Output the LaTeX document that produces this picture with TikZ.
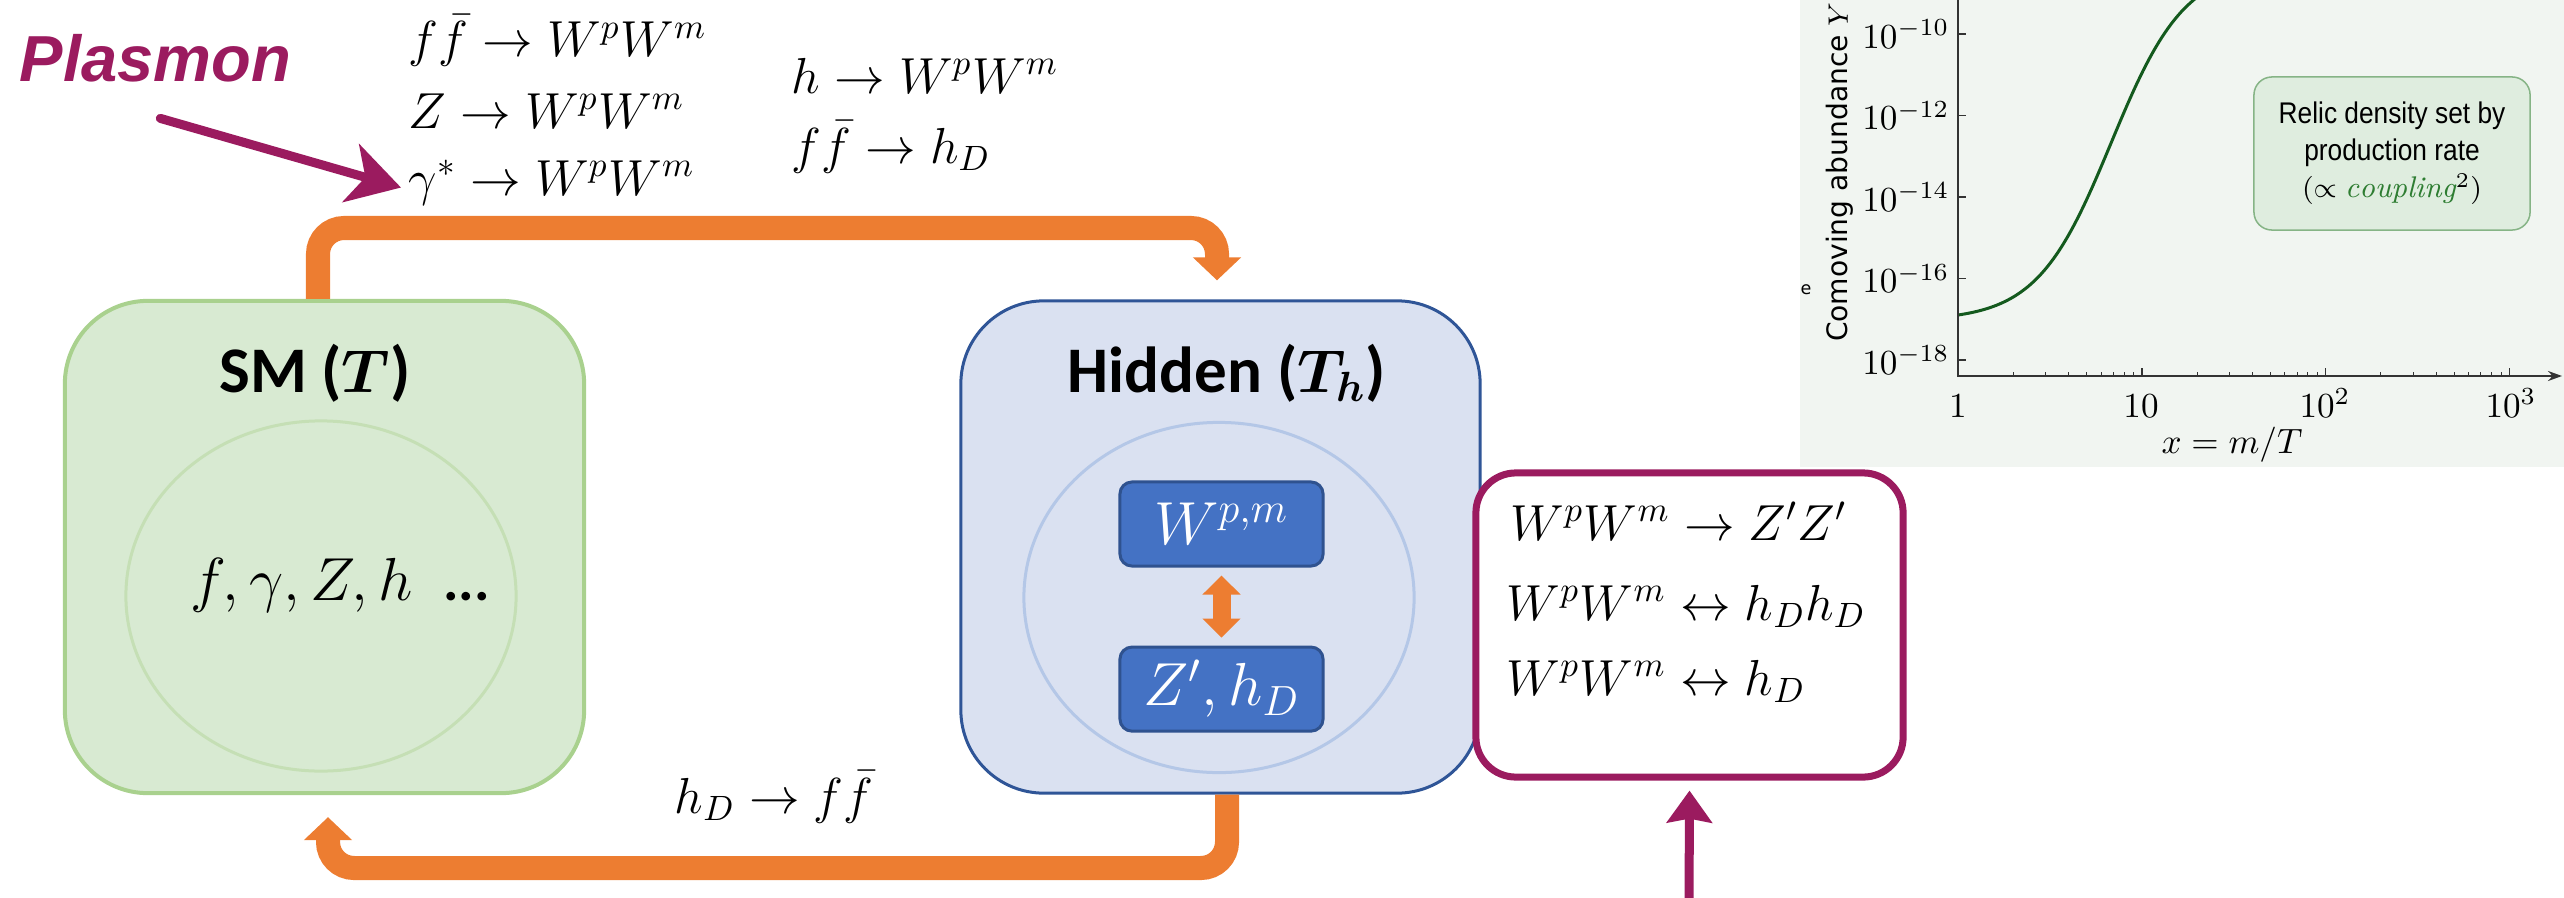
\documentclass[tikz,border=0pt]{standalone}
\usepackage{amsmath}
\usepackage{fontspec}
\usetikzlibrary{arrows.meta,positioning,shapes.geometric}
\newfontfamily\titlefont{Carlito}
\newfontfamily\plasfont{Liberation Sans}
\newfontfamily\axisfont{DejaVu Sans}
\newfontfamily\legfont[FakeStretch=0.88]{Liberation Sans}
\definecolor{smgreen}{HTML}{D8EAD2}
\definecolor{smedge}{HTML}{A9D18E}
\definecolor{smringc}{HTML}{C5DFB5}
\definecolor{hidfill}{HTML}{DAE1F1}
\definecolor{hidedge}{HTML}{2F5597}
\definecolor{hidringc}{HTML}{B4C7E7}
\definecolor{dsblue}{HTML}{4472C4}
\definecolor{dsedge}{HTML}{2F528F}
\definecolor{orangeflow}{HTML}{ED7D31}
\definecolor{plum}{HTML}{9B1B5F}
\definecolor{plotbg}{HTML}{F1F5F1}
\definecolor{curvegreen}{HTML}{145A1E}
\definecolor{legfill}{HTML}{DFEDDF}
\definecolor{legedge}{HTML}{86B486}
\definecolor{cplgreen}{HTML}{2E7D32}

\begin{document}
\begin{tikzpicture}[
  x=0.01cm, y=-0.01cm,
  sector/.style={rounded corners=0.83cm, minimum width=5.19cm, minimum height=4.92cm, line width=0.04cm},
  smbox/.style={sector, draw=smedge, fill=smgreen},
  hidbox/.style={sector, draw=hidedge, fill=hidfill, line width=0.03cm},
  ring/.style={ellipse, minimum width=3.9cm, minimum height=3.5cm, line width=0.03cm},
  title/.style={anchor=base, inner sep=0pt, font=\titlefont\bfseries\fontsize{18.5pt}{22pt}\selectfont},
  dsbox/.style={draw=dsedge, fill=dsblue, line width=0.03cm, rounded corners=0.12cm, minimum width=2.03cm, minimum height=0.84cm, text=white, font=\fontsize{18.5pt}{22pt}\selectfont},
  rx/.style={anchor=base west, inner sep=0pt, font=\fontsize{14pt}{17pt}\selectfont},
  flowarr/.style={orangeflow, line width=0.24cm, rounded corners=0.26cm, -{Triangle[width=0.47cm,length=0.23cm]}},
  dflow/.style={orangeflow, line width=0.18cm, {Triangle[width=0.37cm,length=0.19cm]}-{Triangle[width=0.37cm,length=0.19cm]}, shorten <=0.08cm, shorten >=0.08cm},
  plumarr/.style={plum, line width=0.09cm, line cap=round, -{Stealth[length=0.52cm,width=0.6cm,inset=0.15cm]}},
  plumup/.style={plum, line width=0.09cm, -{Stealth[length=0.32cm,width=0.45cm,inset=0.04cm]}},
  plumbox/.style={draw=plum, fill=white, line width=0.07cm, rounded corners=0.4cm, minimum width=4.27cm, minimum height=3.04cm},
  axisline/.style={black!80, line width=0.015cm},
  ticklab/.style={inner sep=0pt, font=\fontsize{10pt}{12pt}\selectfont},
  legbox/.style={draw=legedge, fill=legfill, line width=0.015cm, rounded corners=0.18cm, minimum width=2.76cm, minimum height=1.53cm, align=center, font=\legfont\fontsize{8.5pt}{10.5pt}\selectfont}
]
\useasboundingbox (0,0) rectangle (2564,897);

% sectors
\node[smbox] (sm) at (324.5,547) {};
\node[hidbox] (hid) at (1220.5,547) {};
\node[title] (smtitle) at (315,392) {SM ($\boldsymbol{T}$)};
\node[title] (hidtitle) at (1227,392) {Hidden ($\boldsymbol{T_h}$)};
\node[ring, draw=smringc] (smring) at (321,596) {};
\node[ring, draw=hidringc] (hidring) at (1219,597.5) {};
\node[anchor=base, inner sep=0pt, font=\fontsize{16.5pt}{20pt}\selectfont] (smparts) at (340,600) {$f,\gamma,Z,h$\hspace{0.3cm}{\titlefont\bfseries ...}};
\node[dsbox] (wbox) at (1221.5,524) {$W^{p,m}$};
\node[dsbox, below=0.78cm of wbox] (zbox) {$Z',h_D$};
\draw[dflow] (wbox) -- (zbox);

% portal flows
\coordinate (toprail) at (0,228);
\coordinate (botrail) at (0,868);
\coordinate (smout) at ([xshift=-0.065cm]sm.north);
\coordinate (hidin) at ([xshift=-0.035cm,yshift=0.19cm]hid.north);
\coordinate (hidout) at ([xshift=0.065cm]hid.south);
\coordinate (smback) at ([xshift=0.035cm,yshift=-0.22cm]sm.south);
\draw[flowarr] (smout) |- (toprail -| hidin) -- (hidin);
\draw[flowarr] (hidout) |- (botrail -| smback) -- (smback);

% production channels
\node[rx] (r1) at (408,57) {$f\bar{f}\to W^pW^m$};
\node[rx] (r2) at (408,128) {$Z\to W^pW^m$};
\node[rx] (r3) at (408,195) {$\gamma^*\to W^pW^m$};
\node[rx] (r4) at (791,93) {$h\to W^pW^m$};
\node[rx] (r5) at (791,163) {$f\bar{f}\to h_D$};
\node[rx] (r6) at (674,813) {$h_D\to f\bar{f}$};

% plasmon note
\node[anchor=base west, inner sep=0pt, text=plum, font=\plasfont\bfseries\itshape\fontsize{18.5pt}{22pt}\selectfont] (plasmon) at (19,81) {Plasmon};
\draw[plumarr] ([xshift=0.05cm,yshift=-0.36cm]plasmon.south) -- ([xshift=-0.07cm,yshift=-0.05cm]r3.west);

% hidden sector processes
\node[plumbox] (rbox) at (1689.5,625) {};
\node[rx] (q1) at (1510,540) {$W^pW^m\to Z'Z'$};
\node[rx] (q2) at (1506,620) {$W^pW^m\leftrightarrow h_Dh_D$};
\node[rx] (q3) at (1506,695) {$W^pW^m\leftrightarrow h_D$};
\coordinate (pinfoot) at (1689,905);
\draw[plumup] (pinfoot) -- ([yshift=-0.1cm]rbox.south);

% abundance inset
\fill[plotbg] (1800,0) rectangle (2564,467);
\begin{scope}
  \clip (1958,0) rectangle (2564,376);
  \draw[curvegreen, line width=0.03cm] plot[domain=1958:2210, samples=80] (\x, {315-355*(1/(1+exp(-(\x-2111)/37))-0.0158)});
\end{scope}
\draw[axisline, -{Stealth[length=0.14cm,width=0.1cm]}] (1958,0) -- (1958,376) -- (2562,376);
\foreach \k in {1,2,3}
  \draw[axisline] ({1958+183.8*\k},376) -- ++(0,-8);
\foreach \d in {0,1,2}
  \foreach \m in {2,...,9}
    \draw[axisline, line width=0.01cm] ({1958+183.8*(\d+log10(\m))},376) -- ++(0,-4);
\foreach \e [count=\i from 0] in {18,16,14,12,10} {
  \draw[axisline] (1958,{360-81.5*\i}) -- ++(8,0);
  \node[ticklab, anchor=east] (yt\e) at (1950,{360-81.5*\i}) {$10^{-\e}$};
}
\node[ticklab, anchor=base] (xt0) at (1958,417) {$1$};
\node[ticklab, anchor=base] (xt1) at (2141,417) {$10$};
\node[ticklab, anchor=base] (xt2) at (2325,417) {$10^2$};
\node[ticklab, anchor=base] (xt3) at (2511,417) {$10^3$};
\node[ticklab, anchor=base] (xlab) at (2232,453) {$x=m/T$};
\node[rotate=90, inner sep=0pt, font=\axisfont\fontsize{8pt}{10pt}\selectfont] (ylab) at (1840,172) {Comoving abundance $Y$};
\node[inner sep=0pt, font=\axisfont\fontsize{5pt}{6pt}\selectfont] (estray) at (1806,290) {e};
\node[legbox] (leg) at (2392,153.5) {Relic density set by\\production rate\\$(\propto {\color{cplgreen}\mathit{coupling}}^2)$};
\end{tikzpicture}
\end{document}
